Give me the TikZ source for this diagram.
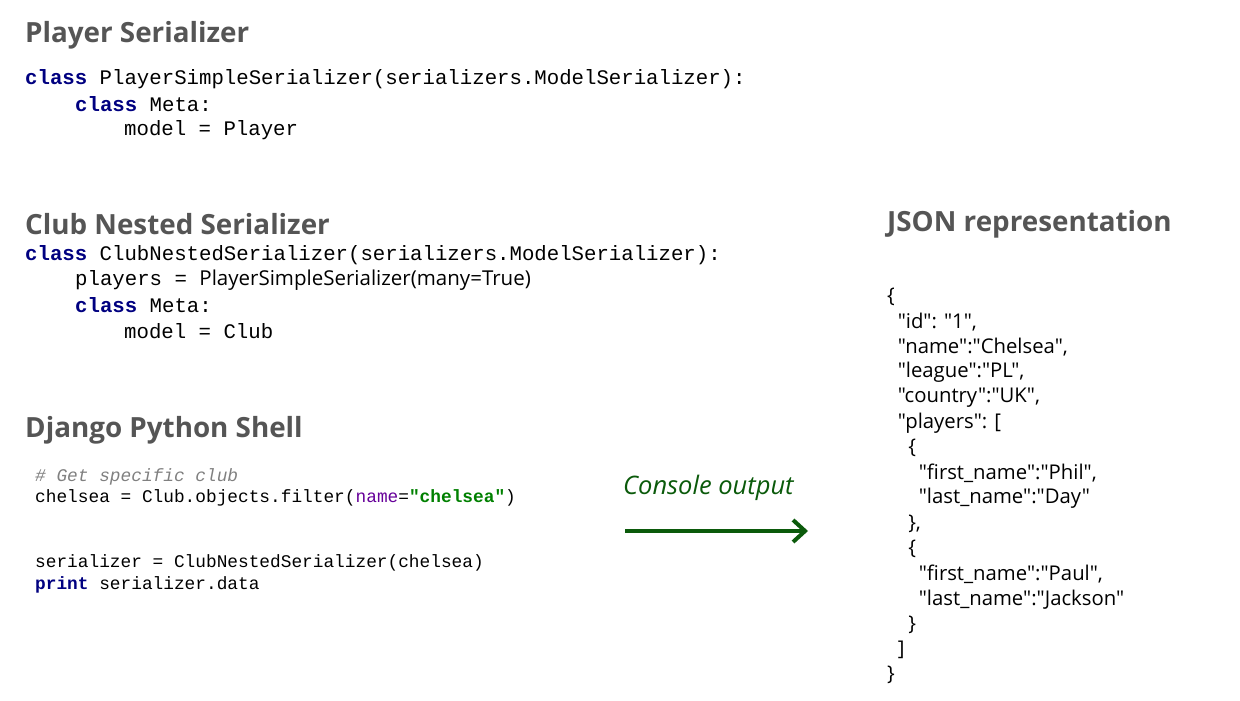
\documentclass[tikz,border=0pt]{standalone}
\usepackage{fontspec}
\setmainfont{Open Sans}[Ligatures=TeXReset]
\setmonofont{Liberation Mono}
\usetikzlibrary{arrows.meta}
\definecolor{head}{HTML}{555555}
\definecolor{kw}{HTML}{000080}
\definecolor{cm}{HTML}{808080}
\definecolor{pu}{HTML}{660099}
\definecolor{gr}{HTML}{008000}
\definecolor{arr}{HTML}{0B5A0B}
\begin{document}
\begin{tikzpicture}[x=1pt,y=-1pt,
  heading/.style={anchor=west,inner sep=0pt,text=head,font=\fontsize{27.8}{32}\selectfont\bfseries},
  code/.style={anchor=west,inner sep=0pt,font=\fontsize{20.7}{24}\selectfont\ttfamily},
  shell/.style={anchor=west,inner sep=0pt,font=\fontsize{17.8}{21}\selectfont\ttfamily},
  json/.style={anchor=west,inner sep=0pt,font=\fontsize{20.3}{24}\selectfont}]
\useasboundingbox (0,0) rectangle (1240,701);
\newcommand\kwd[1]{\textcolor{kw}{\bfseries #1}}
\newcommand\q{\symbol{34}}
\node[heading] (h1) at (25,35) {Player Serializer};
\node[code] (p1) at (25,79) {\kwd{class} PlayerSimpleSerializer(serializers.ModelSerializer):};
\node[code] (p2) at (75,104) {\kwd{class} Meta:};
\node[code] (p3) at (124,130) {model = Player};
\node[heading] (h2) at (25,224) {Club Nested Serializer};
\node[code] (c1) at (25,255) {\kwd{class} ClubNestedSerializer(serializers.ModelSerializer):};
\node[code] (c2) at (75,280) {players = {\rmfamily\fontsize{20.5}{24}\selectfont PlayerSimpleSerializer(many=True)}};
\node[code] (c3) at (75,305) {\kwd{class} Meta:};
\node[code] (c4) at (124,331) {model = Club};
\node[heading] (h3) at (25,430) {Django Python Shell};
\node[shell] (s1) at (35,477) {\textcolor{cm}{\itshape \# Get specific club}};
\node[shell] (s2) at (35,498) {chelsea = Club.objects.filter(\textcolor{pu}{name}=\textcolor{gr}{\bfseries "chelsea"})};
\node[shell] (s3) at (35,563) {serializer = ClubNestedSerializer(chelsea)};
\node[shell] (s4) at (35,585) {\kwd{print} serializer.data};
\node[anchor=west,inner sep=0pt,font=\fontsize{25.5}{30}\selectfont\itshape,text=arr] (co) at (623,488) {Console output};
\coordinate (a1) at (625,531);
\coordinate (a2) at (808,531);
\draw[arr,line width=4pt,-{Straight Barb[length=12pt,width=22pt,line width=4pt]}] (a1) -- (a2);
\node[heading] (h4) at (887,224) {JSON representation};
\foreach \t [count=\i from 0] in {%
{\{},
{\ \ \q id\q: \q 1\q,},
{\ \ \q name\q:\q Chelsea\q,},
{\ \ \q league\q:\q PL\q,},
{\ \ \q country\q:\q UK\q,},
{\ \ \q players\q: [},
{\ \ \ \ \{},
{\ \ \ \ \ \ \q first\_name\q:\q Phil\q,},
{\ \ \ \ \ \ \q last\_name\q:\q Day\q},
{\ \ \ \ \},},
{\ \ \ \ \{},
{\ \ \ \ \ \ \q first\_name\q:\q Paul\q,},
{\ \ \ \ \ \ \q last\_name\q:\q Jackson\q},
{\ \ \ \ \}},
{\ \ ]},
{\}}}
  \node[json] (j\i) at (887,297+25.2*\i) {\t};
\end{tikzpicture}
\end{document}
